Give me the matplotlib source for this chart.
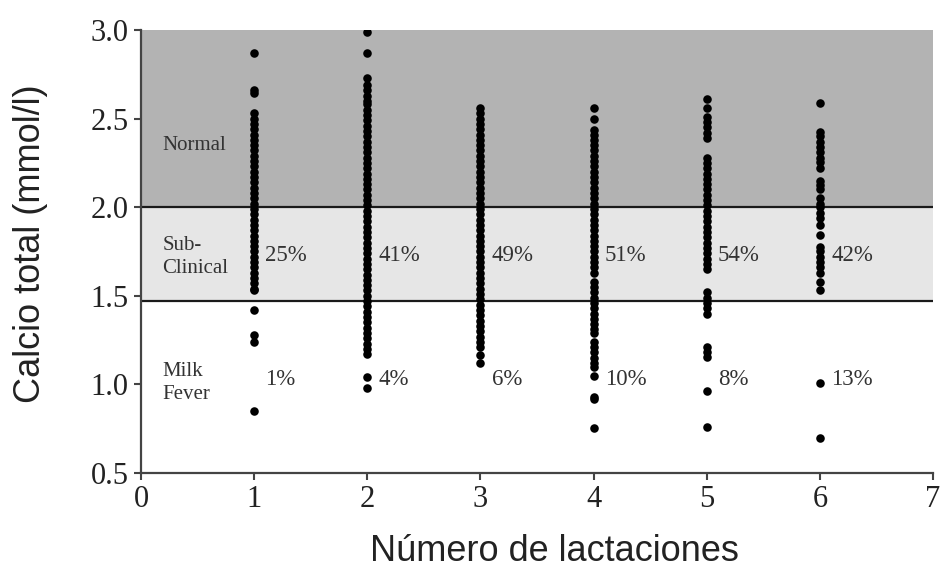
import matplotlib
matplotlib.use("Agg")
import matplotlib.pyplot as plt

# calcio total (mmol/l) por numero de lactacion
calcio_1 = [2.87, 2.66, 2.645, 2.53, 2.50, 2.47, 2.44, 2.41, 2.38, 2.35, 2.32, 2.29, 2.26,
            2.23, 2.20, 2.17, 2.14, 2.11, 2.08, 2.05, 2.02, 1.99, 1.96, 1.93, 1.90, 1.87,
            1.84, 1.81, 1.78, 1.75, 1.72, 1.69, 1.66, 1.63, 1.60, 1.57, 1.54, 1.53,
            1.42, 1.28, 1.24, 0.85]
calcio_2 = [2.99, 2.87, 2.73, 2.69, 2.66, 2.63, 2.60, 2.58, 2.55, 2.52, 2.49, 2.46, 2.43,
            2.40, 2.37, 2.34, 2.31, 2.28, 2.25, 2.22, 2.19, 2.16, 2.13, 2.10, 2.07, 2.04,
            2.01, 1.98, 1.95, 1.92, 1.89, 1.86, 1.83, 1.80, 1.77, 1.74, 1.71, 1.68, 1.65,
            1.62, 1.59, 1.56, 1.53, 1.50, 1.47, 1.44, 1.41, 1.38, 1.35, 1.32, 1.29, 1.26,
            1.23, 1.20, 1.17, 1.04, 0.98]
calcio_3 = [2.56, 2.53, 2.50, 2.47, 2.44, 2.41, 2.38, 2.35, 2.32, 2.29, 2.26, 2.23, 2.20,
            2.17, 2.14, 2.11, 2.08, 2.05, 2.02, 1.99, 1.96, 1.93, 1.90, 1.87, 1.84, 1.81,
            1.78, 1.75, 1.72, 1.69, 1.66, 1.63, 1.60, 1.57, 1.54, 1.51, 1.48, 1.45, 1.42,
            1.39, 1.36, 1.33, 1.30, 1.27, 1.24, 1.21, 1.165, 1.12]
calcio_4 = [2.56, 2.50, 2.435, 2.41, 2.38, 2.35, 2.32, 2.29, 2.26, 2.23, 2.20, 2.17, 2.14,
            2.11, 2.08, 2.05, 2.02, 1.99, 1.96, 1.93, 1.90, 1.87, 1.84, 1.81, 1.78, 1.75,
            1.72, 1.69, 1.66, 1.63, 1.58, 1.55, 1.52, 1.49, 1.46, 1.43, 1.40, 1.37, 1.34,
            1.31, 1.29, 1.24, 1.21, 1.18, 1.15, 1.12, 1.10, 1.05, 0.93, 0.92, 0.755]
calcio_5 = [2.61, 2.56, 2.51, 2.48, 2.45, 2.42, 2.39, 2.28, 2.25, 2.22, 2.19, 2.16, 2.13,
            2.10, 2.07, 2.04, 2.01, 1.98, 1.95, 1.92, 1.89, 1.86, 1.83, 1.80, 1.77, 1.74,
            1.71, 1.68, 1.65, 1.52, 1.49, 1.46, 1.43, 1.40, 1.21, 1.18, 1.155, 0.96, 0.76]
calcio_6 = [2.59, 2.425, 2.40, 2.37, 2.34, 2.31, 2.28, 2.255, 2.22, 2.15, 2.125, 2.10,
            2.05, 2.02, 2.00, 1.97, 1.94, 1.90, 1.845, 1.775, 1.75, 1.72, 1.69, 1.66,
            1.63, 1.58, 1.53, 1.01, 0.70]

lactaciones = [1, 2, 3, 4, 5, 6]
calcio = [calcio_1, calcio_2, calcio_3, calcio_4, calcio_5, calcio_6]
pct_subclinica = ["25%", "41%", "49%", "51%", "54%", "42%"]
pct_fiebre = ["1%", "4%", "6%", "10%", "8%", "13%"]

limite_normal = 2.0
limite_fiebre = 1.47

serif = "Liberation Serif"
sans = "Liberation Sans"

fig = plt.figure(figsize=(9.43, 5.81), dpi=100)
ax = fig.add_axes([0.1495, 0.1859, 0.8399, 0.7625])

ax.set_xlim(0, 7)
ax.set_ylim(0.5, 3.0)

# bandas de fondo
ax.axhspan(limite_normal, 3.0, color="#b3b3b3", zorder=0, lw=0)
ax.axhspan(limite_fiebre, limite_normal, color="#e6e6e6", zorder=0, lw=0)
ax.axhline(limite_normal, color="#1a1a1a", lw=1.6, zorder=1)
ax.axhline(limite_fiebre, color="#1a1a1a", lw=1.6, zorder=1)

for n, vals in zip(lactaciones, calcio):
    ax.scatter([n] * len(vals), vals, s=38, color="black", lw=0, zorder=3)

for n, sub, fev in zip(lactaciones, pct_subclinica, pct_fiebre):
    ax.text(n + 0.1, 1.73, sub, fontsize=16.5, family=serif, color="#333333",
            va="center", ha="left")
    ax.text(n + 0.1, 1.03, fev, fontsize=16.5, family=serif, color="#333333",
            va="center", ha="left")

ax.text(0.19, 2.35, "Normal", fontsize=15, family=serif, color="#333333", va="center")
ax.text(0.19, 1.72, "Sub-\nClinical", fontsize=15, family=serif, color="#333333",
        va="center", linespacing=1.3)
ax.text(0.19, 1.01, "Milk\nFever", fontsize=15, family=serif, color="#333333",
        va="center", linespacing=1.3)

ax.set_xticks(range(0, 8))
ax.set_yticks([0.5, 1.0, 1.5, 2.0, 2.5, 3.0])
ax.set_yticklabels(["0.5", "1.0", "1.5", "2.0", "2.5", "3.0"])
for lab in ax.get_xticklabels() + ax.get_yticklabels():
    lab.set_family(serif)
    lab.set_fontsize(22)
    lab.set_color("#222222")
ax.tick_params(direction="out", length=5, width=1.5, color="#444444", pad=4)

for side in ["top", "right"]:
    ax.spines[side].set_visible(False)
for side in ["left", "bottom"]:
    ax.spines[side].set_color("#444444")
    ax.spines[side].set_linewidth(1.6)

fig.text(0.5875, 0.05, "Número de lactaciones", fontsize=26, family=sans,
         color="#222222", ha="center", va="center")
fig.text(0.032, 0.58, "Calcio total (mmol/l)", fontsize=26, family=sans,
         color="#222222", ha="center", va="center", rotation=90)

fig.savefig("out.png", dpi=100)
